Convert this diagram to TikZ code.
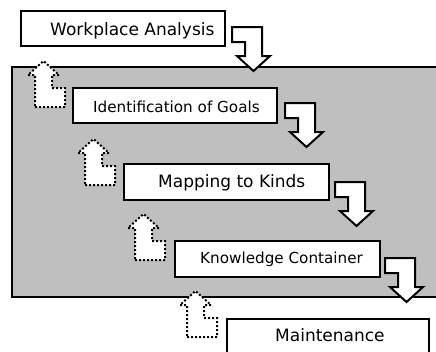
\documentclass[tikz,border=0pt]{standalone}
\usepackage{fontspec}
\setmainfont{DejaVu Sans}
\tikzset{
  panel/.style={draw=black, line width=2pt, fill=black!25},
  box/.style={draw=black, line width=2.2pt, fill=white, rectangle, inner sep=0pt, anchor=north west},
  lbl/.style={inner sep=0pt, anchor=base west, text=black},
  downarrow/.style={draw=black, line width=2pt, fill=white, line join=miter},
  uparrow/.style={draw=black, line width=2pt, fill=white, dash pattern=on 2pt off 2pt, line join=miter},
  big/.style={font=\fontsize{17}{20}\selectfont},
  small/.style={font=\fontsize{15.2}{18}\selectfont}
}
\newcommand{\downarr}[2]{%
  \draw[downarrow] (#1,#2) -- ++(30,0) -- ++(0,29) -- ++(8,0) -- ++(-16.5,15) -- ++(-16.5,-15) -- ++(8,0) -- ++(0,-14) -- ++(-13,0) -- cycle;}
\newcommand{\uparr}[2]{%
  \draw[uparrow] (#1,#2) -- ++(30,0) -- ++(0,-19) -- ++(-13,0) -- ++(0,-13) -- ++(7,0) -- ++(-15.5,-14) -- ++(-15.5,14) -- ++(7,0) -- cycle;}
\begin{document}
\begin{tikzpicture}[x=1pt,y=-1pt]
\useasboundingbox (0,0) rectangle (436,351);
\clip (0,0) rectangle (436,351);
% gray panel
\draw[panel] (12,67) rectangle (460,297);
% boxes
\node[box, minimum width=204pt, minimum height=35pt] (wa) at (20,10) {};
\node[box, minimum width=204pt, minimum height=35pt] (ig) at (72,87) {};
\node[box, minimum width=205pt, minimum height=36pt] (mk) at (123,163) {};
\node[box, minimum width=205pt, minimum height=36pt] (kc) at (174,240) {};
\node[box, minimum width=202pt, minimum height=45pt] (mt) at (226,318) {};
% labels
\node[lbl, big] (wat) at (50,35) {Workplace Analysis};
\node[lbl, small] (igt) at (93,112) {Identification of Goals};
\node[lbl, big] (mkt) at (158,187) {Mapping to Kinds};
\node[lbl, small] (kct) at (200,263) {Knowledge Container};
\node[lbl, big] (mtt) at (275,341) {Maintenance};
% solid down arrows
\downarr{232}{27}
\downarr{285}{103}
\downarr{335}{182}
\downarr{385}{258}
% dotted up arrows
\uparr{35}{107}
\uparr{85}{185}
\uparr{135}{260}
\uparr{187}{337}
\end{tikzpicture}
\end{document}
